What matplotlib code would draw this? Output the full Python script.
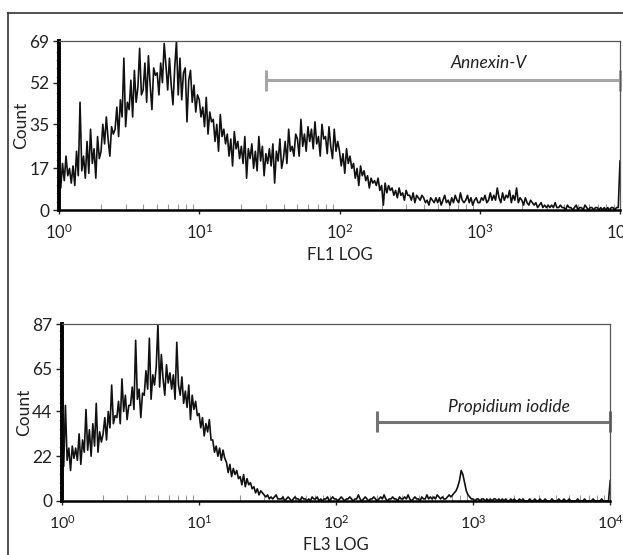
import matplotlib.pyplot as plt
import numpy as np
from matplotlib.lines import Line2D
from matplotlib.ticker import AutoMinorLocator, LogLocator

plt.rcParams['font.family'] = ['Lato', 'DejaVu Sans']
plt.rcParams['mathtext.fontset'] = 'custom'
plt.rcParams['mathtext.rm'] = 'Lato'
plt.rcParams['mathtext.it'] = 'Lato:italic'
plt.rcParams['mathtext.default'] = 'regular'

# FL1 (Annexin-V) channel counts, 80 channels per decade from 10^0 to 10^4
fl1_counts = [
    15, 9, 19, 12, 22, 14, 17, 11,   18, 10, 24, 14, 44, 16, 22, 13,
    28, 15, 33, 19, 25, 13, 30, 21,   24, 35, 27, 38, 29, 22, 34, 31,
    33, 42, 30, 45, 38, 62, 34, 44,   41, 53, 38, 57, 44, 50, 66, 47,
    49, 60, 44, 63, 51, 41, 58, 55,   56, 47, 60, 52, 68, 59, 49, 62,
    51, 43, 58, 69, 47, 62, 45, 56,   58, 36, 53, 57, 44, 51, 40, 47,
    45, 38, 42, 34, 46, 31, 40, 36,   37, 28, 35, 24, 39, 30, 33, 27,
    31, 22, 29, 18, 32, 25, 28, 21,   26, 19, 30, 13, 25, 21, 27, 17,
    24, 16, 30, 20, 26, 14, 23, 19,   25, 18, 27, 11, 24, 20, 29, 17,
    21, 28, 19, 33, 24, 26, 22, 31,   29, 22, 37, 26, 31, 24, 34, 28,
    33, 25, 36, 27, 30, 22, 35, 29,   30, 23, 34, 26, 21, 33, 24, 28,
    24, 18, 23, 15, 25, 19, 22, 17,   19, 13, 17, 10, 18, 14, 16, 12,
    14, 9, 13, 11, 12, 10, 13, 8,     10, 2, 11, 7, 10, 8, 9, 6,
    8, 5, 9, 6, 7, 4, 8, 6,           6, 4, 7, 3, 6, 5, 4, 6,
    5, 3, 4, 2, 5, 4, 3, 5,           3, 5, 2, 4, 6, 3, 4, 2,
    5, 3, 6, 4, 3, 7, 4, 3,           4, 6, 3, 5, 2, 4, 5, 3,
    3, 5, 4, 6, 3, 4, 7, 4,           6, 4, 9, 5, 3, 7, 4, 6,
    5, 8, 3, 6, 4, 9, 3, 5,           4, 2, 5, 3, 2, 4, 3, 2,
    3, 1, 2, 3, 1, 2, 1, 2,           1, 2, 1, 3, 1, 1, 2, 1,
    1, 0, 2, 1, 1, 0, 1, 2,           0, 1, 1, 0, 2, 1, 0, 1,
    1, 0, 1, 1, 0, 1, 0, 1,           0, 1, 0, 1, 1, 0, 1, 1,
    20,
]

# FL3 (propidium iodide) channel counts, same channel grid
fl3_counts = [
    24, 17, 47, 20, 26, 15, 27, 21,   26, 20, 33, 18, 30, 24, 45, 25,
    35, 22, 38, 27, 48, 24, 34, 29,   33, 41, 30, 44, 36, 57, 38, 42,
    41, 49, 38, 60, 44, 52, 40, 47,   47, 56, 45, 79, 50, 55, 41, 53,
    52, 64, 55, 80, 50, 62, 57, 66,   87, 56, 72, 60, 52, 67, 58, 63,
    55, 62, 50, 78, 57, 52, 61, 48,   54, 46, 57, 40, 52, 45, 49, 42,
    43, 36, 41, 32, 38, 34, 40, 30,   30, 24, 27, 22, 26, 20, 25, 21,
    19, 14, 18, 12, 16, 13, 15, 11,   12, 8, 13, 7, 11, 8, 9, 6,
    7, 4, 6, 3, 5, 4, 3, 2,           3, 1, 2, 1, 2, 3, 1, 1,
    1, 2, 0, 1, 2, 1, 0, 1,           2, 1, 1, 0, 2, 1, 1, 0,
    1, 0, 2, 1, 1, 2, 0, 1,           0, 1, 1, 2, 0, 1, 2, 1,
    1, 0, 1, 2, 1, 0, 1, 1,           2, 1, 0, 1, 1, 3, 1, 0,
    1, 2, 1, 0, 1, 1, 2, 1,           0, 1, 2, 1, 3, 1, 0, 1,
    1, 2, 1, 1, 0, 2, 1, 1,           2, 1, 3, 1, 0, 1, 2, 1,
    1, 0, 2, 1, 1, 3, 1, 2,           1, 2, 1, 3, 2, 1, 2, 1,
    1, 2, 3, 2, 3, 4, 5, 7,           10, 15, 13, 9, 5, 3, 2, 1,
    1, 0, 1, 1, 0, 1, 1, 0,           1, 0, 1, 0, 1, 1, 0, 1,
    0, 1, 0, 1, 0, 0, 1, 0,           1, 0, 0, 1, 0, 1, 0, 0,
    0, 1, 0, 0, 1, 0, 0, 1,           0, 0, 1, 0, 0, 0, 1, 0,
    0, 0, 1, 0, 0, 1, 0, 0,           1, 0, 0, 0, 0, 1, 0, 0,
    0, 1, 0, 0, 0, 0, 1, 0,           0, 0, 0, 1, 0, 0, 0, 0,
    10,
]

fl1_yticks = [0, 17, 35, 52, 69]
fl3_yticks = [0, 22, 44, 65, 87]

# gate: (start, end, level, label, label_x, label_y)
fl1_gate = (30, 1e4, 53, 'Annexin-V', 1160, 60)
fl3_gate = (200, 1e4, 39, 'Propidium iodide', 1820, 46)

fig = plt.figure(figsize=(6.23, 5.55), dpi=100)

# outer frame (top and left edges visible)
fig.add_artist(Line2D([0.0128, 0.0128], [0.0, 0.9766], color='#333333', lw=1.2))
fig.add_artist(Line2D([0.0128, 1.0], [0.9766, 0.9766], color='#333333', lw=1.2))


def draw_panel(rect, counts, yticks, gate, gate_color, cap, xlabel, xsize):
    ax = fig.add_axes(rect)
    x = np.logspace(0, 4, len(counts))
    ax.plot(x, counts, color='#111111', lw=1.2)
    ax.set_xscale('log')
    ax.set_xlim(1, 1e4)
    ax.set_ylim(0, yticks[-1])
    ax.set_yticks(yticks)
    ax.yaxis.set_minor_locator(AutoMinorLocator(5))
    ax.xaxis.set_major_locator(LogLocator(base=10, numticks=10))
    ax.xaxis.set_minor_locator(LogLocator(base=10, subs=np.arange(2, 10), numticks=10))

    for side in ['top', 'right']:
        ax.spines[side].set_color('#555555')
        ax.spines[side].set_linewidth(0.9)
    ax.spines['left'].set_linewidth(2.8)
    ax.spines['bottom'].set_linewidth(1.8)

    ax.tick_params(axis='y', which='major', direction='out', length=4, width=1,
                   labelsize=12.5, pad=3, colors='#222222')
    ax.tick_params(axis='y', which='minor', direction='out', length=2, width=0.8,
                   color='#999999')
    ax.tick_params(axis='x', which='major', direction='out', length=3, width=1,
                   labelsize=xsize, pad=6, colors='#222222')
    ax.tick_params(axis='x', which='minor', direction='in', length=4, width=0.8,
                   color='#999999', labelbottom=False)

    ax.set_ylabel('Count', fontsize=12.5, color='#222222', labelpad=0)
    ax.set_xlabel(xlabel, fontsize=12, color='#222222', labelpad=4)

    # gate bar with end caps
    g0, g1, gy, label, lx, ly = gate
    ax.plot([g0, g1], [gy, gy], color=gate_color, lw=2.2, solid_capstyle='butt',
            clip_on=False)
    for gx in (g0, g1):
        ax.plot([gx, gx], [gy - cap, gy + cap], color=gate_color, lw=2.2,
                solid_capstyle='butt', clip_on=False)
    ax.text(lx, ly, label, fontsize=12.5, style='italic', color='#222222',
            ha='center', va='center')
    return ax


draw_panel([0.0947, 0.6216, 0.9005, 0.3045], fl1_counts, fl1_yticks, fl1_gate,
           '#a6a6a6', 4.3, 'FL1 LOG', 12)
draw_panel([0.0995, 0.0973, 0.880, 0.3189], fl3_counts, fl3_yticks, fl3_gate,
           '#737373', 5.3, 'FL3 LOG', 11.5)

plt.savefig('out.png', dpi=100, facecolor='white')
